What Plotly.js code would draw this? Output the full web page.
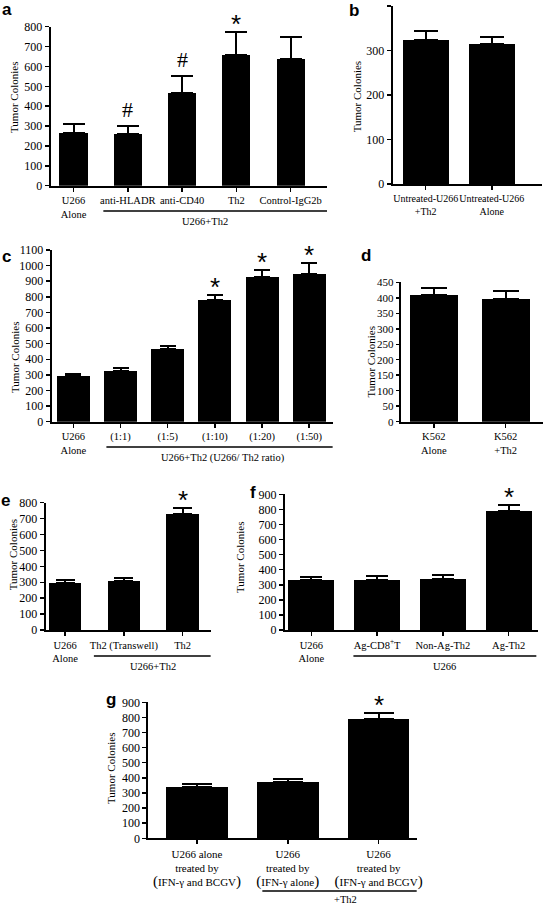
<!DOCTYPE html>
<html><head><meta charset="utf-8">
<script src="https://cdn.plot.ly/plotly-3.0.1.min.js"></script>
<style>html,body{margin:0;padding:0;background:#fff}#chart{width:544px;height:906px}</style>
</head><body><div id="chart"></div>
<script>
// ---------- data ----------
const yTitle = "Tumor Colonies";

const aCategories = ["U266<br>Alone", "anti-HLADR", "anti-CD40", "Th2", "Control-IgG2b"];
const aValues = [267, 260, 468, 659, 636];
const aErrors = [42, 40, 82, 114, 111];
const aMarks = ["", "#", "#", "*", ""];
const aGroupLabel = "U266+Th2";

const bCategories = ["Untreated-U266<br>+Th2", "Untreated-U266<br>Alone"];
const bValues = [323, 314];
const bErrors = [21, 16];
const bMarks = ["", ""];

const cCategories = ["U266<br>Alone", "(1:1)", "(1:5)", "(1:10)", "(1:20)", "(1:50)"];
const cValues = [292, 322, 463, 782, 928, 947];
const cErrors = [15, 19, 25, 31, 42, 71];
const cMarks = ["", "", "", "*", "*", "*"];
const cGroupLabel = "U266+Th2 (U266/ Th2 ratio)";

const dCategories = ["K562<br>Alone", "K562<br>+Th2"];
const dValues = [408, 395];
const dErrors = [23, 26];
const dMarks = ["", ""];

const eCategories = ["U266<br>Alone", "Th2 (Transwell)", "Th2"];
const eValues = [297, 309, 727];
const eErrors = [15, 17, 42];
const eMarks = ["", "", "*"];
const eGroupLabel = "U266+Th2";

const fCategories = ["U266<br>Alone", "Ag-CD8<sup>+</sup>T", "Non-Ag-Th2", "Ag-Th2"];
const fValues = [333, 329, 338, 787];
const fErrors = [18, 27, 24, 42];
const fMarks = ["", "", "", "*"];
const fGroupLabel = "U266";

const gCategories = [
  "U266 alone<br>treated by<br><span style='font-size:15px'>(</span>IFN-γ and BCGV<span style='font-size:15px'>)</span>",
  "U266<br>treated by<br><span style='font-size:15px'>(</span>IFN-γ alone<span style='font-size:15px'>)</span>",
  "U266<br>treated by<br><span style='font-size:15px'>(</span>IFN-γ and BCGV<span style='font-size:15px'>)</span>"
];
const gValues = [340, 374, 787];
const gErrors = [20, 17, 44];
const gMarks = ["", "", "*"];
const gGroupLabel = "+Th2";

// ---------- layout helpers ----------
const W = 544, H = 906;
const px = v => v / W;
const py = v => 1 - v / H;
const SERIF = "Liberation Serif";
const SANS = "Liberation Sans";

const traces = [];
const annotations = [];
const shapes = [];
const layout = {
  width: W, height: H,
  margin: {l: 0, r: 0, t: 0, b: 0},
  paper_bgcolor: "#fff", plot_bgcolor: "#fff",
  showlegend: false,
  bargap: 0,
  annotations: annotations,
  shapes: shapes
};

function panel(idx, cats, vals, errs, marks, g) {
  const s = idx === 1 ? "" : String(idx);
  const xa = "x" + s, ya = "y" + s;
  traces.push({
    type: "bar", x: cats, y: vals, xaxis: xa, yaxis: ya,
    width: g.bw,
    marker: {color: "#000", line: {width: 0}},
    error_y: {type: "data", symmetric: false, array: errs, arrayminus: errs.map(() => 0),
              color: "#000", thickness: 2, width: g.cap},
    hoverinfo: "skip"
  });
  layout["xaxis" + s] = {
    domain: [px(g.x0), px(g.x1)], range: g.xr, anchor: ya, type: "category",
    showline: true, linecolor: "#000", linewidth: 2,
    ticks: "outside", ticklen: 4, tickwidth: 1.5, tickcolor: "#000",
    tickangle: 0,
    tickfont: {family: SERIF, size: g.xf, color: "#000"},
    showgrid: false, zeroline: false, fixedrange: true
  };
  layout["yaxis" + s] = {
    domain: [py(g.y0), py(g.y1)], range: g.yr, anchor: xa,
    tick0: 0, dtick: g.dt,
    showline: true, linecolor: "#000", linewidth: 2,
    ticks: "outside", ticklen: g.tl || 4, tickwidth: 1.5, tickcolor: "#000",
    tickfont: {family: SERIF, size: g.yf, color: "#000"},
    showgrid: false, zeroline: false, fixedrange: true
  };
  // significance marks
  marks.forEach((m, i) => {
    if (!m) return;
    const star = m === "*";
    annotations.push({
      xref: xa, yref: ya, x: i, y: vals[i] + errs[i],
      text: m, showarrow: false, yanchor: "bottom", xanchor: "center",
      yshift: star ? -9 : 2,
      font: star ? {family: SANS, size: 26, color: "#000"} : {family: SERIF, size: 22, color: "#000"}
    });
  });
  // y title
  annotations.push({
    xref: "paper", yref: "paper", x: px(g.tx), y: py(g.ty), text: yTitle,
    textangle: -90, showarrow: false, xanchor: "center", yanchor: "middle",
    font: {family: SERIF, size: 11, color: "#000"}
  });
  // panel letter
  annotations.push({
    xref: "paper", yref: "paper", x: px(g.lx), y: py(g.ly), text: "<b>" + g.letter + "</b>",
    showarrow: false, xanchor: "center", yanchor: "middle",
    font: {family: SANS, size: 17, color: "#000"}
  });
  // group bracket line + label
  if (g.group) {
    const gr = g.group;
    shapes.push({type: "line", xref: xa, yref: "paper", x0: gr.x0, x1: gr.x1,
                 y0: py(gr.y), y1: py(gr.y), line: {color: "#000", width: 1.5}});
    annotations.push({
      xref: xa, yref: "paper", x: gr.lx, y: py(gr.ly), text: gr.text,
      showarrow: false, xanchor: "center", yanchor: "middle",
      font: {family: SERIF, size: g.gf || g.xf, color: "#000"}
    });
  }
}

panel(1, aCategories, aValues, aErrors, aMarks, {
  x0: 50.7, x1: 327, y0: 185.7, y1: 26.7, xr: [-0.42, 4.67], yr: [0, 800], dt: 100,
  bw: 0.52, cap: 11, xf: 10.5, yf: 12, tx: 13.3, ty: 97.7, letter: "a", lx: 6.5, ly: 9,
  group: {x0: 0.55, x1: 4.7, y: 211, lx: 2.43, ly: 221, text: aGroupLabel}
});
panel(2, bCategories, bValues, bErrors, bMarks, {
  x0: 392.7, x1: 542, y0: 184, y1: 6, xr: [-0.5, 1.76], yr: [0, 400], dt: 100,
  bw: 0.7, cap: 12, xf: 10, yf: 12, tx: 357.3, ty: 97, letter: "b", lx: 353.5, ly: 10.5
});
panel(3, cCategories, cValues, cErrors, cMarks, {
  x0: 51.7, x1: 332.8, y0: 421.7, y1: 250, xr: [-0.46, 5.5], yr: [0, 1100], dt: 100,
  bw: 0.7, cap: 8, xf: 10.5, yf: 12, tx: 15, ty: 358, letter: "c", lx: 6, ly: 256,
  group: {x0: 0.7, x1: 5.5, y: 447, lx: 3.17, ly: 458, text: cGroupLabel}
});
panel(4, dCategories, dValues, dErrors, dMarks, {
  x0: 400.7, x1: 543, y0: 421.7, y1: 282.3, xr: [-0.46, 1.52], yr: [0, 450], dt: 50,
  bw: 0.67, cap: 13, xf: 10.5, yf: 11, tl: 3, tx: 370.5, ty: 362, letter: "d", lx: 366, ly: 255.5
});
panel(5, eCategories, eValues, eErrors, eMarks, {
  x0: 45.7, x1: 210.8, y0: 630, y1: 502.7, xr: [-0.33, 2.48], yr: [0, 800], dt: 100,
  bw: 0.55, cap: 9.5, xf: 10.5, yf: 12, tx: 13.3, ty: 555, letter: "e", lx: 5, ly: 500,
  group: {x0: 0.49, x1: 2.48, y: 656, lx: 1.49, ly: 666.5, text: eGroupLabel}
});
panel(6, fCategories, fValues, fErrors, fMarks, {
  x0: 285, x1: 538.3, y0: 630, y1: 494.3, xr: [-0.4, 3.45], yr: [0, 900], dt: 100,
  bw: 0.7, cap: 11, xf: 10.5, yf: 12, tx: 240, ty: 558, letter: "f", lx: 253, ly: 492,
  group: {x0: 0.64, x1: 3.42, y: 656, lx: 2.02, ly: 666.5, text: fGroupLabel}
});
panel(7, gCategories, gValues, gErrors, gMarks, {
  x0: 148.3, x1: 416.7, y0: 838.3, y1: 702.3, xr: [-0.536, 2.42], yr: [0, 900], dt: 100,
  bw: 0.68, cap: 15, xf: 11, yf: 12, tx: 111.7, ty: 768.3, letter: "g", lx: 111, ly: 699,
  group: {x0: 0.72, x1: 2.56, y: 891, lx: 1.64, ly: 899.5, text: gGroupLabel}, gf: 10.5
});

Plotly.newPlot("chart", traces, layout, {staticPlot: true, displayModeBar: false});
</script>
</body></html>
